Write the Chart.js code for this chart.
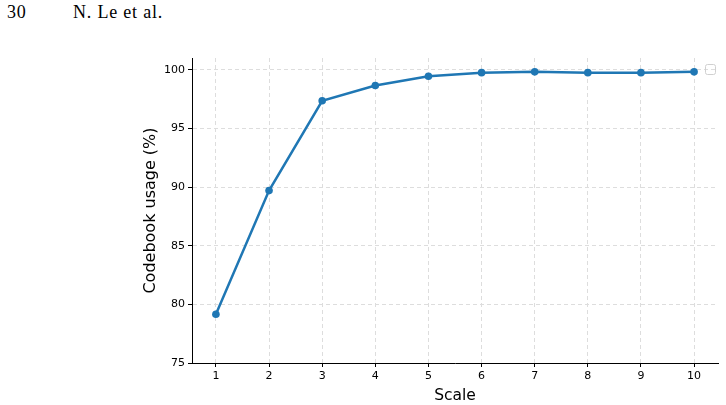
<!DOCTYPE html>
<html>
<head>
<meta charset="utf-8">
<script src="https://cdn.jsdelivr.net/npm/chart.js@4.4.1/dist/chart.umd.min.js"></script>
<style>
  body { margin: 0; background: #fff; }
  #wrap { position: relative; width: 726px; height: 405px; }
  #chart { position: absolute; left: 0; top: 0; }
  .hdr { position: absolute; top: 2px; font-family: "Liberation Serif", serif; font-size: 18px; letter-spacing: 0.8px; color: #000; }
</style>
</head>
<body>
<div id="wrap">
  <div class="hdr" style="left:7px">30</div>
  <div class="hdr" style="left:73px">N. Le et al.</div>
  <canvas id="chart" width="726" height="405"></canvas>
</div>
<script>
// Codebook usage vs. scale
const scales = [1, 2, 3, 4, 5, 6, 7, 8, 9, 10];
const usage = [79.15, 89.7, 97.35, 98.65, 99.45, 99.75, 99.82, 99.75, 99.75, 99.82];
const yTicks = [75, 80, 85, 90, 95, 100];

const BLUE = '#1f77b4';
const FONT = '"DejaVu Sans", sans-serif';

// empty legend frame in the top right corner (as in the original figure)
const emptyLegend = {
  id: 'emptyLegend',
  afterDraw(chart) {
    const { ctx, chartArea } = chart;
    const x = chartArea.right - 13, y = chartArea.top + 6, s = 10;
    ctx.save();
    ctx.strokeStyle = '#d0d0d0';
    ctx.lineWidth = 1;
    ctx.beginPath();
    ctx.roundRect(x + 0.5, y + 0.5, s, s, 2);
    ctx.stroke();
    ctx.restore();
  }
};

new Chart(document.getElementById('chart'), {
  type: 'line',
  data: {
    datasets: [{
      data: scales.map((s, i) => ({ x: s, y: usage[i] })),
      borderColor: BLUE,
      backgroundColor: BLUE,
      borderWidth: 2.5,
      pointRadius: 3.8,
      pointBorderWidth: 0,
      tension: 0
    }]
  },
  options: {
    responsive: false,
    animation: false,
    layout: { padding: { top: 58, right: 8, left: 141, bottom: 0 } },
    plugins: { legend: { display: false }, tooltip: { enabled: false } },
    scales: {
      x: {
        type: 'linear',
        min: 0.55, max: 10.45,
        afterBuildTicks: s => { s.ticks = scales.map(v => ({ value: v })); },
        afterFit: s => { s.height = 42; },
        ticks: { color: '#000', font: { family: FONT, size: 11 }, padding: 3, maxRotation: 0 },
        grid: { color: '#dddddd', tickColor: '#000', tickLength: 4 },
        border: { color: '#000', width: 1, dash: [4, 3] },
        title: { display: true, text: 'Scale', color: '#000', font: { family: FONT, size: 15.5 }, padding: { top: 2, bottom: 0 } }
      },
      y: {
        min: 75, max: 101,
        afterBuildTicks: s => { s.ticks = yTicks.map(v => ({ value: v })); },
        afterFit: s => { s.width = 51; },
        ticks: { color: '#000', font: { family: FONT, size: 11 }, padding: 3 },
        grid: { color: '#dddddd', tickColor: '#000', tickLength: 4 },
        border: { color: '#000', width: 1, dash: [4, 3] },
        title: { display: true, text: 'Codebook usage (%)', color: '#000', font: { family: FONT, size: 16 }, padding: { top: 0, bottom: 0 } }
      }
    }
  },
  plugins: [emptyLegend]
});
</script>
</body>
</html>
